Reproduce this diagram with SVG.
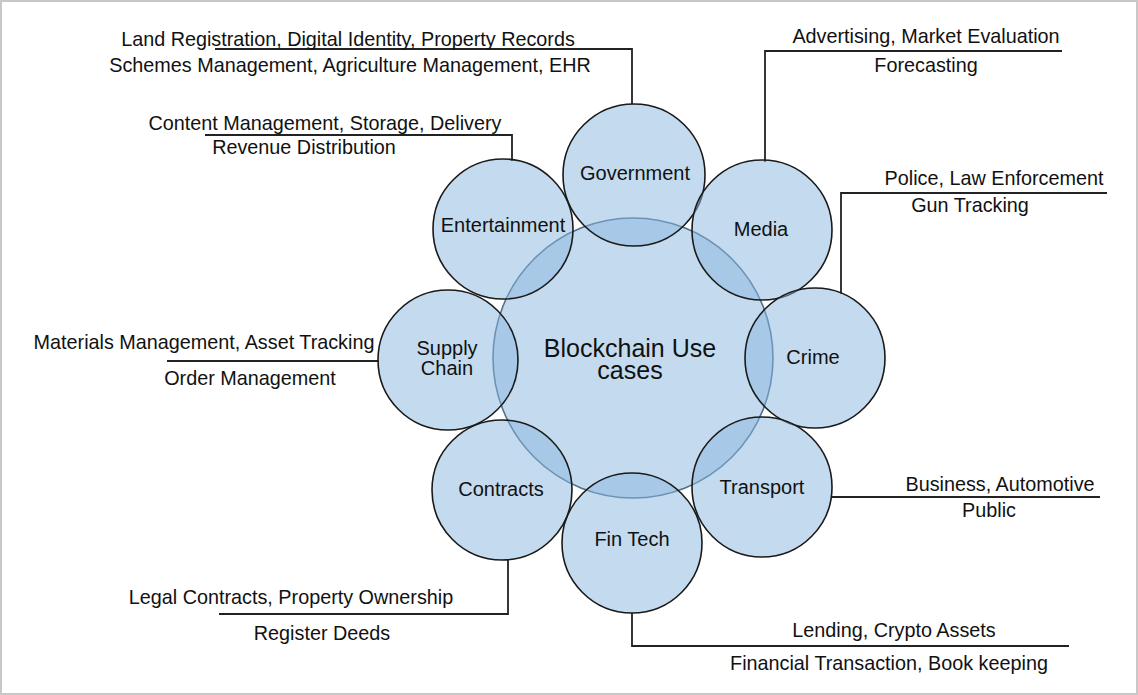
<svg xmlns="http://www.w3.org/2000/svg" width="1138" height="695" viewBox="0 0 1138 695">
<style>
text{font-family:"Liberation Sans",Arial,sans-serif;fill:#111;text-anchor:middle}
.lbl{font-size:19.8px}
.node{font-size:20px}
.ctr{font-size:25px}
.c{fill:#8ab8e0;fill-opacity:0.5;stroke:#1a1a1a;stroke-width:1.6}
.big{fill:#8ab8e0;fill-opacity:0.5;stroke:#4f6f8a;stroke-width:1.6}
.ln{fill:none;stroke:#222;stroke-width:1.8}
</style>
<rect x="1" y="1" width="1136" height="693" fill="#fff" stroke="#c8c8c8" stroke-width="2"/>
<g id="connectors">
<polyline class="ln" points="215,49 632,49 632,104"/>
<polyline class="ln" points="205,135 512,135 512,161"/>
<polyline class="ln" points="1062,51 765,51 765,162"/>
<polyline class="ln" points="1107,193 841,193 841,294"/>
<polyline class="ln" points="167,361 379,361"/>
<polyline class="ln" points="831,497 1100,497"/>
<polyline class="ln" points="219,614 508,614 508,559"/>
<polyline class="ln" points="632,613 632,646 1069,646"/>
</g>
<g id="center"><circle class="big" cx="633" cy="358" r="140"/></g>
<g id="government"><circle class="c" cx="634" cy="175" r="71"/><text class="node" x="635" y="180">Government</text></g>
<g id="media"><circle class="c" cx="762" cy="230" r="70"/><text class="node" x="761" y="236">Media</text></g>
<g id="crime"><circle class="c" cx="815" cy="358" r="70"/><text class="node" x="813" y="364">Crime</text></g>
<g id="transport"><circle class="c" cx="762" cy="487" r="70"/><text class="node" x="762" y="494">Transport</text></g>
<g id="fintech"><circle class="c" cx="632" cy="543" r="70"/><text class="node" x="632" y="546">Fin Tech</text></g>
<g id="contracts"><circle class="c" cx="502" cy="490" r="70"/><text class="node" x="501" y="496">Contracts</text></g>
<g id="supplychain"><circle class="c" cx="448" cy="360" r="70"/><text class="node" x="447" y="355">Supply</text><text class="node" x="447" y="375">Chain</text></g>
<g id="entertainment"><circle class="c" cx="503" cy="229" r="70"/><text class="node" x="503" y="232">Entertainment</text></g>
<g id="center-label"><text class="ctr" x="630" y="357">Blockchain Use</text><text class="ctr" x="630" y="379">cases</text></g>
<g id="labels">
<text class="lbl" x="348" y="46">Land Registration, Digital Identity, Property Records</text>
<text class="lbl" x="350" y="72">Schemes Management, Agriculture Management, EHR</text>
<text class="lbl" x="325" y="130">Content Management, Storage, Delivery</text>
<text class="lbl" x="304" y="154">Revenue Distribution</text>
<text class="lbl" x="926" y="43">Advertising, Market Evaluation</text>
<text class="lbl" x="926" y="72">Forecasting</text>
<text class="lbl" x="994" y="185">Police, Law Enforcement</text>
<text class="lbl" x="970" y="212">Gun Tracking</text>
<text class="lbl" x="204" y="349">Materials Management, Asset Tracking</text>
<text class="lbl" x="250" y="385">Order Management</text>
<text class="lbl" x="1000" y="491">Business, Automotive</text>
<text class="lbl" x="989" y="517">Public</text>
<text class="lbl" x="291" y="604">Legal Contracts, Property Ownership</text>
<text class="lbl" x="322" y="640">Register Deeds</text>
<text class="lbl" x="894" y="637">Lending, Crypto Assets</text>
<text class="lbl" x="889" y="670">Financial Transaction, Book keeping</text>
</g>
</svg>
